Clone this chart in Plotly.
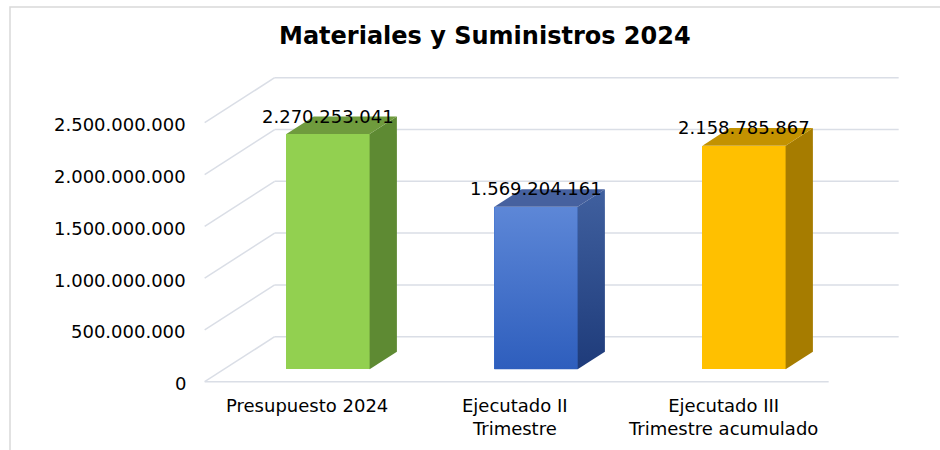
import plotly.graph_objects as go

# ---------------- data ----------------
categories = ["Presupuesto 2024", "Ejecutado II<br>Trimestre", "Ejecutado III<br>Trimestre acumulado"]
values = [2270253041, 1569204161, 2158785867]
tick_values = [0, 500000000, 1000000000, 1500000000, 2000000000, 2500000000]
title_text = "Materiales y Suministros 2024"

# ---------------- styling ----------------
front_colors = ["#92D050", "#3A6FCC", "#FFC000"]
side_colors = ["#5E8A33", "#2B4A8C", "#A67C00"]
top_colors = ["#6F9B3D", "#46619F", "#C39200"]
grid_color = "#DADEE6"
FONT = "DejaVu Sans"

W, H = 940, 450
PX_LEFT = 224.0          # pixel of x=-0.5 on bar plane
PX_CAT = 208.0           # pixels per category
PX_ZERO = 369.3          # pixel row of value 0 on bar plane
PX_PER_B = 103.6         # pixels per 1e9

x_range = [-0.5 - PX_LEFT / PX_CAT, -0.5 + (W - PX_LEFT) / PX_CAT]
y_range = [-(H - PX_ZERO) / PX_PER_B * 1e9, PX_ZERO / PX_PER_B * 1e9]

# depth vector (front -> back) in data units
DX = 70.0 / PX_CAT
DY = 45.0 / PX_PER_B * 1e9
F0, F1 = -0.276, 0.724   # floor front / back wall fractions
BD = 0.39                # bar depth fraction
BW = 0.4                 # bar width

fig = go.Figure()
xs = list(range(len(values)))

# front faces
fig.add_trace(go.Bar(x=xs, y=values, width=BW, marker=dict(color=front_colors, line=dict(width=0)),
                     hoverinfo="skip", showlegend=False))

# gradient overlay for the blue bar
i = 1
v = values[i]
fig.add_trace(go.Scatter(x=[i - BW / 2, i + BW / 2, i + BW / 2, i - BW / 2, i - BW / 2],
                         y=[0, 0, v, v, 0], mode="lines", line=dict(width=0), fill="toself",
                         fillgradient=dict(type="vertical", colorscale=[[0, "#2E5EBD"], [1, "#5D87D7"]]),
                         hoverinfo="skip", showlegend=False))

# side & top faces
for i, v in enumerate(values):
    xr = i + BW / 2
    xl = i - BW / 2
    side = go.Scatter(x=[xr, xr + BD * DX, xr + BD * DX, xr, xr],
                      y=[0, BD * DY, v + BD * DY, v, 0],
                      mode="lines", line=dict(width=0), fill="toself", fillcolor=side_colors[i],
                      hoverinfo="skip", showlegend=False)
    if i == 1:
        side.update(fillgradient=dict(type="vertical", colorscale=[[0, "#1E3B7A"], [1, "#40609F"]]))
    fig.add_trace(side)
    fig.add_trace(go.Scatter(x=[xl, xr, xr + BD * DX, xl + BD * DX, xl],
                             y=[v, v, v + BD * DY, v + BD * DY, v],
                             mode="lines", line=dict(width=0), fill="toself", fillcolor=top_colors[i],
                             hoverinfo="skip", showlegend=False))

shapes = []
annotations = []
# walls / gridlines
for t in tick_values:
    shapes.append(dict(type="line", xref="x", yref="y", layer="below",
                       x0=-0.5 + F1 * DX, y0=t + F1 * DY, x1=2.5 + F1 * DX, y1=t + F1 * DY,
                       line=dict(color=grid_color, width=1.5)))
    shapes.append(dict(type="line", xref="x", yref="y", layer="below",
                       x0=-0.5 + F0 * DX, y0=t + F0 * DY, x1=-0.5 + F1 * DX, y1=t + F1 * DY,
                       line=dict(color=grid_color, width=1.5)))
    annotations.append(dict(x=-0.5 + F0 * DX, y=t + F0 * DY, xref="x", yref="y",
                            text=f"{t:,}".replace(",", "."), showarrow=False,
                            xanchor="right", yanchor="middle", xshift=-17, yshift=-2,
                            font=dict(family=FONT, size=18, color="#000000")))
# floor front edge
shapes.append(dict(type="line", xref="x", yref="y", layer="below",
                   x0=-0.5 + F0 * DX, y0=F0 * DY, x1=2.5 + F0 * DX, y1=F0 * DY,
                   line=dict(color=grid_color, width=1.5)))

# category labels
for i, c in enumerate(categories):
    annotations.append(dict(x=i + F0 * DX, y=F0 * DY, xref="x", yref="y", text=c, showarrow=False,
                            xanchor="center", yanchor="top", yshift=-11, xshift=-2,
                            font=dict(family=FONT, size=18, color="#000000")))

# data labels
for i, v in enumerate(values):
    annotations.append(dict(x=i, y=v, xref="x", yref="y", text=f"{v:,}".replace(",", "."),
                            showarrow=False, xanchor="center", yanchor="middle", yshift=18,
                            font=dict(family=FONT, size=18, color="#000000")))

# title
annotations.append(dict(x=485 / W, y=1 - 36 / H, xref="paper", yref="paper", text=f"<b>{title_text}</b>",
                        showarrow=False, xanchor="center", yanchor="middle",
                        font=dict(family=FONT, size=24, color="#000000")))

# chart border
shapes.append(dict(type="rect", xref="paper", yref="paper", x0=10 / W, y0=-0.05, x1=1.05, y1=1 - 7 / H,
                   line=dict(color="#D9D9D9", width=1.5), layer="below"))

fig.update_layout(
    width=W, height=H, autosize=False,
    margin=dict(l=0, r=0, t=0, b=0, pad=0),
    paper_bgcolor="white", plot_bgcolor="white",
    xaxis=dict(range=x_range, visible=False, fixedrange=True),
    yaxis=dict(range=y_range, visible=False, fixedrange=True),
    shapes=shapes, annotations=annotations, showlegend=False, bargap=0,
    hovermode=False,
)

fig.write_html("out.html", config={"displayModeBar": False, "staticPlot": True},
               post_script="document.body.style.margin='0px';document.body.style.overflow='hidden';")
